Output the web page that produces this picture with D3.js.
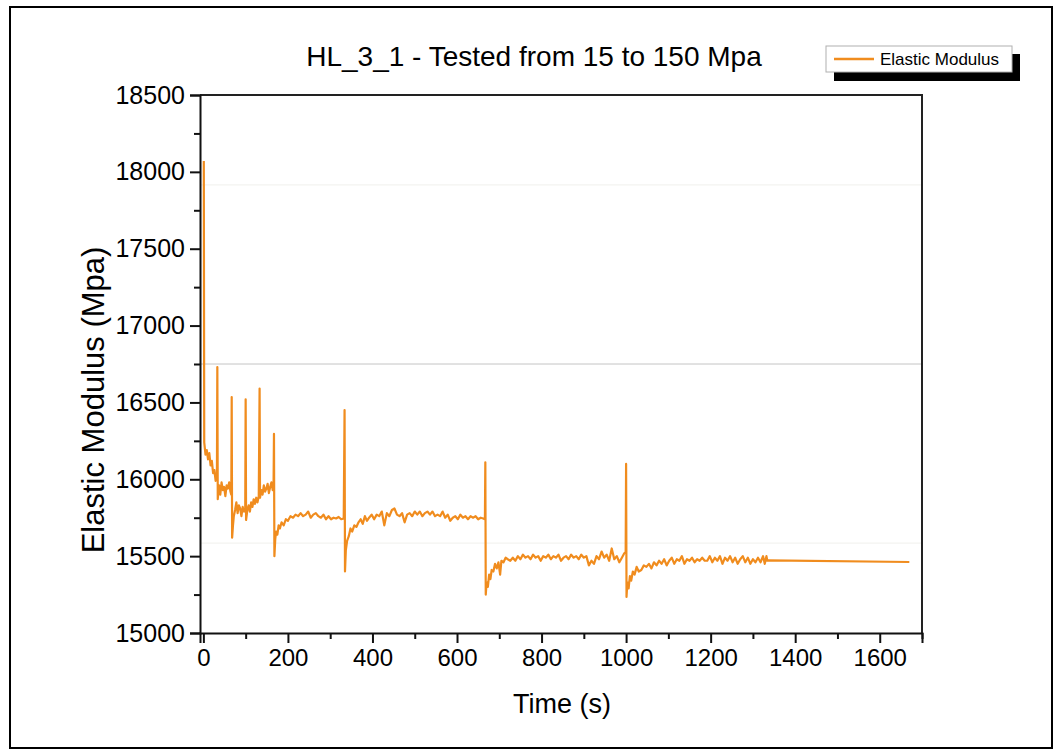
<!DOCTYPE html>
<html>
<head>
<meta charset="utf-8">
<script src="https://cdn.jsdelivr.net/npm/d3@7"></script>
<style>
  html, body { margin: 0; padding: 0; background: #fff; }
  svg { display: block; }
  text { font-family: Arial, "Liberation Sans", sans-serif; fill: #000; }
</style>
</head>
<body>
<svg id="chart" width="1062" height="756"></svg>
<script>
// Elastic modulus measured during stepwise cyclic loading (15 → 150 MPa).
// Each array is one hold period: [time (s), modulus (MPa)].
const hold1 = [[1,18070],[2,16240],[5,16160],[8,16190],[11,16130],[14,16170],[17,16090],[20,16120],[23,16040],[26,16060],[29,15990],[32,16020],[33,16730]];
const hold2 = [[34,15870],[37,15960],[40,15900],[43,15980],[46,15930],[49,15950],[52,15890],[55,15960],[58,15940],[61,15980],[64,15920],[66,15900],[67,16535]];
const hold3 = [[68,15620],[70,15700],[72,15760],[75,15800],[78,15850],[81,15780],[84,15830],[87,15810],[90,15760],[93,15820],[96,15790],[99,15810],[100,16520]];
const hold4 = [[101,15735],[104,15800],[107,15830],[110,15790],[113,15850],[116,15820],[119,15870],[122,15840],[125,15880],[128,15850],[131,15890],[133,16590]];
const hold5 = [[134,15880],[137,15930],[140,15900],[143,15960],[146,15920],[149,15940],[152,15970],[155,15910],[158,15950],[161,15980],[164,15930],[166,15950],[167,16295]];
const hold6 = [[168,15500],[170,15610],[172,15660],[175,15640],[178,15700],[181,15680],[185,15720],[190,15700],[195,15740],[200,15730],[206,15760],[212,15750],[218,15770],[224,15760],[230,15780],[236,15760],[242,15770],[248,15790],[254,15750],[260,15770],[266,15780],[272,15760],[278,15750],[284,15770],[290,15740],[296,15760],[302,15740],[308,15750],[314,15745],[320,15755],[326,15740],[332,15745],[334,16450]];
const hold7 = [[335,15400],[337,15540],[340,15600],[344,15630],[348,15680],[352,15660],[357,15700],[362,15690],[367,15720],[372,15740],[377,15710],[382,15760],[387,15730],[392,15750],[398,15770],[404,15740],[410,15770],[416,15760],[422,15790],[428,15700],[434,15780],[440,15760],[446,15800],[452,15810],[458,15770],[464,15760],[470,15780],[476,15720],[482,15770],[488,15780],[494,15760],[500,15790],[506,15770],[512,15790],[518,15760],[524,15780],[530,15790],[536,15770],[542,15790],[548,15760],[554,15770],[560,15760],[566,15790],[572,15750],[578,15770],[584,15730],[590,15750],[596,15760],[602,15740],[608,15770],[614,15750],[620,15760],[626,15740],[632,15760],[638,15750],[644,15760],[650,15740],[656,15750],[662,15745],[666,15740],[667,16110]];
const hold8 = [[668,15250],[670,15330],[673,15300],[676,15380],[679,15350],[682,15410],[686,15400],[690,15450],[694,15420],[698,15460],[702,15380],[705,15470],[710,15460],[715,15490],[720,15480],[726,15470],[732,15490],[738,15470],[744,15500],[750,15480],[756,15510],[762,15490],[768,15500],[774,15480],[780,15510],[786,15490],[792,15500],[798,15470],[804,15500],[810,15490],[816,15510],[822,15480],[828,15500],[834,15490],[840,15510],[846,15470],[852,15490],[858,15500],[864,15480],[870,15510],[876,15490],[882,15500],[888,15480],[894,15510],[900,15490],[906,15500],[912,15440],[918,15470],[924,15450],[930,15500],[936,15480],[942,15530],[948,15490],[954,15510],[960,15470],[966,15550],[972,15480],[978,15500],[984,15460],[990,15490],[996,15520],[999,15525],[1000,16100]];
const hold9 = [[1001,15235],[1003,15330],[1006,15290],[1009,15370],[1012,15340],[1016,15400],[1020,15380],[1025,15430],[1030,15400],[1036,15410],[1042,15440],[1048,15430],[1054,15450],[1060,15420],[1066,15460],[1072,15440],[1078,15470],[1084,15450],[1090,15480],[1096,15440],[1102,15470],[1108,15490],[1114,15450],[1120,15480],[1126,15470],[1132,15500],[1138,15450],[1144,15480],[1150,15470],[1156,15490],[1162,15460],[1168,15480],[1174,15470],[1180,15490],[1186,15470],[1192,15470],[1198,15500],[1204,15460],[1210,15490],[1216,15470],[1222,15500],[1228,15450],[1234,15490],[1240,15470],[1246,15500],[1252,15460],[1258,15490],[1264,15450],[1270,15480],[1276,15500],[1282,15460],[1288,15490],[1294,15450],[1300,15480],[1306,15460],[1312,15490],[1318,15460],[1324,15500],[1328,15450],[1332,15500],[1334,15470],[1336,15472],[1670,15462]];

const xTicks = [0, 200, 400, 600, 800, 1000, 1200, 1400, 1600];
const xMinorTicks = [100, 300, 500, 700, 900, 1100, 1300, 1500, 1700];
const yTicks = [15000, 15500, 16000, 16500, 17000, 17500, 18000, 18500];
const yMinorTicks = [15250, 15750, 16250, 16750, 17250, 17750, 18250];
const refLevels = [17915, 16750, 15585];

const titleText = "HL_3_1 - Tested from 15 to 150 Mpa";
const xLabel = "Time (s)";
const yLabel = "Elastic Modulus (Mpa)";
const seriesName = "Elastic Modulus";

const series = [].concat(hold1, hold2, hold3, hold4, hold5, hold6, hold7, hold8, hold9);

const svg = d3.select("#chart");
const plot = { left: 200, right: 922, top: 95, bottom: 633 };
const lineColor = "#f08c1e";

// outer frame
svg.append("rect")
  .attr("x", 10).attr("y", 7).attr("width", 1042).attr("height", 741)
  .attr("fill", "#fff").attr("stroke", "#000").attr("stroke-width", 2);

const x = d3.scaleLinear().domain([-8, 1700]).range([plot.left, plot.right]);
const y = d3.scaleLinear().domain([15000, 18500]).range([plot.bottom, plot.top]);

// faint horizontal reference lines
svg.append("g").selectAll("line").data(refLevels).join("line")
  .attr("x1", plot.left).attr("x2", plot.right)
  .attr("y1", d => y(d)).attr("y2", d => y(d))
  .attr("stroke", (d, i) => i === 1 ? "#c4c4c4" : "#f0f0ec")
  .attr("stroke-width", 1);

// data line
const line = d3.line().x(d => x(d[0])).y(d => y(d[1]));
svg.append("path")
  .datum(series)
  .attr("d", line)
  .attr("fill", "none")
  .attr("stroke", lineColor)
  .attr("stroke-width", 2.2)
  .attr("stroke-linejoin", "round");

// plot frame (top and right edges)
svg.append("path")
  .attr("d", `M${plot.left},${plot.top}H${plot.right}V${plot.bottom}`)
  .attr("fill", "none").attr("stroke", "#222").attr("stroke-width", 2);

// axes
const fmt = d3.format("d");
const xAxis = svg.append("g").attr("transform", `translate(0,${plot.bottom})`)
  .call(d3.axisBottom(x).tickValues(xTicks).tickFormat(fmt).tickSize(10).tickPadding(6));
svg.append("g").attr("transform", `translate(0,${plot.bottom})`)
  .call(d3.axisBottom(x).tickValues(xMinorTicks).tickFormat("").tickSize(6))
  .call(g => g.select(".domain").remove());
const yAxis = svg.append("g").attr("transform", `translate(${plot.left},0)`)
  .call(d3.axisLeft(y).tickValues(yTicks).tickFormat(fmt).tickSize(10).tickPadding(5));
svg.append("g").attr("transform", `translate(${plot.left},0)`)
  .call(d3.axisLeft(y).tickValues(yMinorTicks).tickFormat("").tickSize(6))
  .call(g => g.select(".domain").remove());

svg.selectAll(".domain").attr("stroke", "#111").attr("stroke-width", 2);
svg.selectAll(".tick line").attr("stroke", "#111").attr("stroke-width", 2);
xAxis.selectAll(".tick text").attr("font-size", 24).attr("font-family", "Arial, 'Liberation Sans', sans-serif");
yAxis.selectAll(".tick text").attr("font-size", 25).attr("font-family", "Arial, 'Liberation Sans', sans-serif");

// titles
svg.append("text")
  .attr("x", 534).attr("y", 66)
  .attr("text-anchor", "middle")
  .attr("font-size", 28)
  .text(titleText);

svg.append("text")
  .attr("x", 562).attr("y", 713)
  .attr("text-anchor", "middle")
  .attr("font-size", 27)
  .text(xLabel);

svg.append("text")
  .attr("transform", "translate(104,400) rotate(-90)")
  .attr("text-anchor", "middle")
  .attr("font-size", 31)
  .text(yLabel);

// legend with drop shadow
const lg = svg.append("g");
lg.append("rect").attr("x", 834).attr("y", 54).attr("width", 186).attr("height", 27).attr("fill", "#000");
lg.append("rect").attr("x", 826).attr("y", 46).attr("width", 186).attr("height", 26)
  .attr("fill", "#fff").attr("stroke", "#b0b0b0").attr("stroke-width", 1);
lg.append("line").attr("x1", 834).attr("x2", 874).attr("y1", 59).attr("y2", 59)
  .attr("stroke", lineColor).attr("stroke-width", 2.5);
lg.append("text").attr("x", 880).attr("y", 65).attr("font-size", 17).text(seriesName);
</script>
</body>
</html>
